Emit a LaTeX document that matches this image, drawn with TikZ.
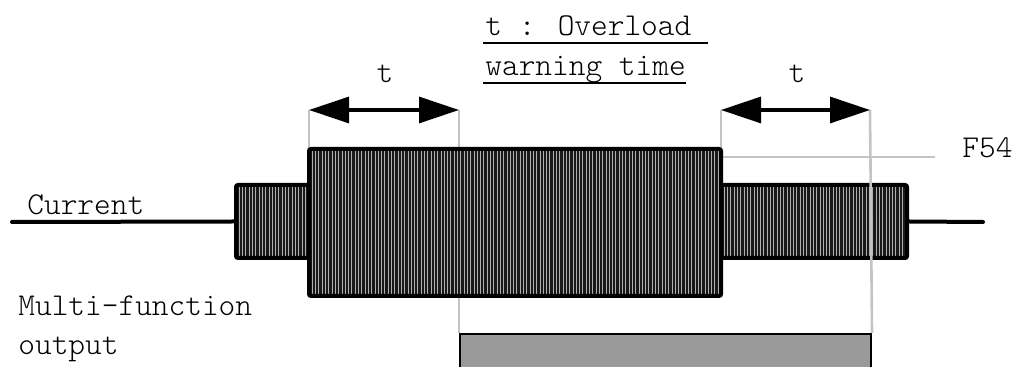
\documentclass[tikz,border=0pt]{standalone}
\usepackage{tikz}
\usetikzlibrary{arrows.meta, positioning}
\definecolor{guide}{HTML}{C4C4C4}
\definecolor{stripe}{HTML}{B0B0B0}
\definecolor{outfill}{HTML}{9A9A9A}

\begin{document}
\begin{tikzpicture}[x=0.5pt, y=-0.5pt,
      lbl/.style={font=\ttfamily\fontseries{l}\fontsize{15.9}{19.5}\selectfont, inner sep=0pt},
      wave/.style={draw, fill=black!90, line width=2pt, rounded corners=1pt,
                   inner sep=0pt, path picture={
                     \foreach \k in {0,...,140}
                       \draw[stripe, line width=0.45pt]
                         ([xshift=\k*1.65pt]path picture bounding box.south west)
                         -- ([xshift=\k*1.65pt]path picture bounding box.north west);}},
      guideline/.style={draw=guide, line width=1.3pt},
      span/.style={{Triangle[length=20pt, width=13pt]}-{Triangle[length=20pt, width=13pt]},
                   line width=1.6pt},
      uline/.style={line width=1pt}]
    \clip (0,0) rectangle (1012,367);
    % current waveform
    \node[wave, minimum width=36.5pt, minimum height=36.5pt] (sl) at (272.5,221.5) {};
    \node[wave, minimum width=93pt, minimum height=36.5pt] (sr) at (814,221.5) {};
    \coordinate (cin) at (12,222);
    \coordinate (cout) at (983,222);
    \draw[line width=2pt, line cap=round] (cin) -- (sl.west);
    \draw[line width=2pt, line cap=round] (sr.east) -- (cout);
    % output box
    \node[draw, fill=outfill, line width=1pt, minimum width=205.5pt, minimum height=40pt,
          anchor=north west, inner sep=0pt] (out) at (459,333) {};
    % guide lines
    \coordinate (g1) at (309,110);
    \coordinate (g2) at (459,110);
    \coordinate (g3) at (721,110);
    \coordinate (g4) at (870,110);
    \coordinate (f54l) at (935,157);
    \draw[guideline] (g1) -- (309,160);
    \draw[guideline] (g2) -- (out.north west);
    \draw[guideline] (g3) -- (721,160);
    \draw[guideline] (g4) -- (out.north east);
    \draw[guideline] (721,157) -- (f54l);
    \node[wave, minimum width=206pt, minimum height=73.5pt] (big) at (515,222.5) {};
    \draw[span] (g1) -- (g2);
    \draw[span] (g3) -- (g4);
    % labels
    \node[lbl, anchor=base] (t1) at (385,83) {t};
    \node[lbl, anchor=base] (t2) at (797,83) {t};
    \node[lbl, anchor=base west] (ov) at (485,36) {t : Overload};
    \node[lbl, anchor=base west] (wt) at (485,76) {warning time};
    \draw[uline] ([yshift=-3.75pt, xshift=-1pt]ov.base west) -- ([yshift=-3.75pt, xshift=8.35pt]ov.base east);
    \draw[uline] ([yshift=-3.75pt, xshift=-1pt]wt.base west) -- ([yshift=-3.75pt]wt.base east);
    \node[lbl, anchor=base west] (cur) at (27,215) {Current};
    \node[lbl, anchor=base west] (f54) at (962,158) {F54};
    \node[lbl, anchor=base west, align=left] (mfo) at (18,355) {Multi-function\\output};
  \end{tikzpicture}
\end{document}
